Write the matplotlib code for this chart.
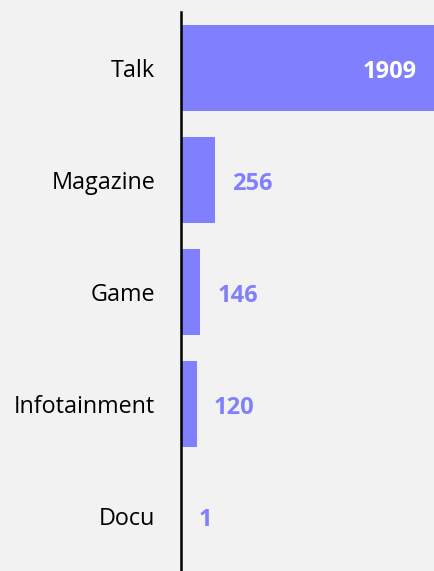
import matplotlib
matplotlib.use("Agg")
import matplotlib.pyplot as plt

categories = ["Talk", "Magazine", "Game", "Infotainment", "Docu"]
values = [1909, 256, 146, 120, 1]

bar_color = "#8080ff"
bg = "#f2f2f2"

fig = plt.figure(figsize=(4.34, 5.71), dpi=100, facecolor=bg)
W, H = 434, 571
ax = fig.add_axes([181 / W, -1 / H, 253 / W, 560 / H])
ax.set_facecolor(bg)

y = list(range(len(categories)))
ax.barh(y, values, height=0.77, color=bar_color, left=0)
ax.set_ylim(len(categories) - 0.5, -0.5)
ax.set_xlim(0, max(values))

ax.set_yticks(y)
ax.set_yticklabels(categories, fontsize=16.8, family="Open Sans", color="black")
ax.tick_params(axis="y", length=0, pad=18.5)
ax.set_xticks([])
for s in ["top", "right", "bottom"]:
    ax.spines[s].set_visible(False)
ax.spines["left"].set_color("black")
ax.spines["left"].set_linewidth(1.8)

vmax = max(values)
for yi, v in zip(y, values):
    if v > vmax * 0.5:
        ax.annotate(str(v), xy=(v, yi), xytext=(-17, -4), textcoords="offset pixels",
                    ha="right", va="center", fontsize=17, fontweight="bold",
                    family="Open Sans", color="white")
    else:
        ax.annotate(str(v), xy=(v, yi), xytext=(17, -4), textcoords="offset pixels",
                    ha="left", va="center", fontsize=17, fontweight="bold",
                    family="Open Sans", color=bar_color)

fig.savefig("out.png", dpi=100, facecolor=bg)
